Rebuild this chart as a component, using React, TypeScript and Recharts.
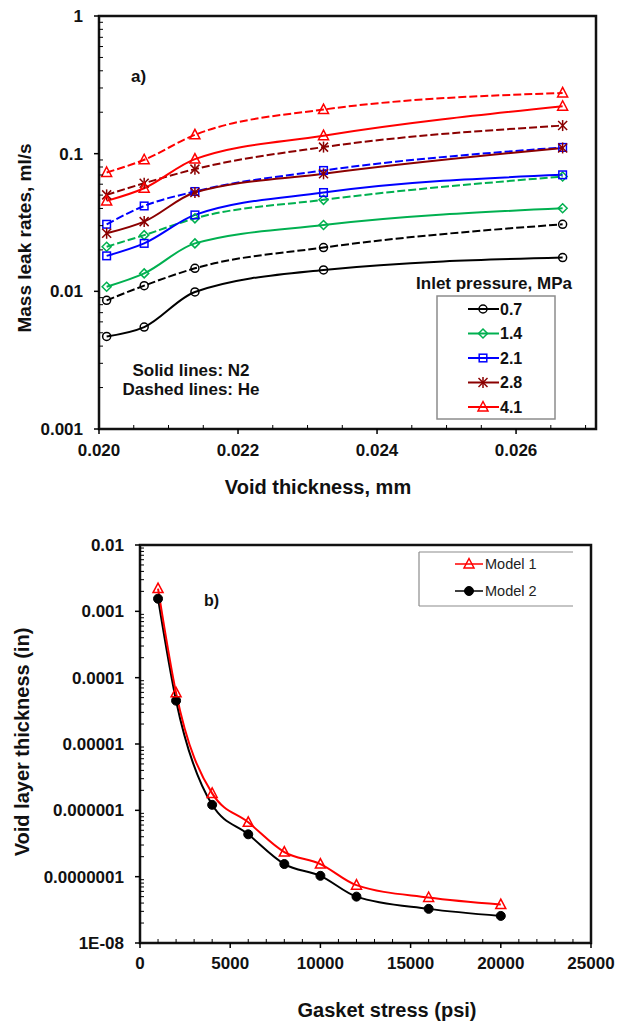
import React from 'react';
import { LineChart, Line, XAxis, YAxis, ReferenceArea } from 'recharts';

const FONT = '"Liberation Sans", Arial, Helvetica, sans-serif';

// ---------- Chart a) data ----------
const voidThickness = [0.02011, 0.02065, 0.02138, 0.02323, 0.02667];
const pressures = ['0.7', '1.4', '2.1', '2.8', '4.1'];
const n2_07 = [0.0047, 0.0055, 0.0099, 0.0143, 0.0176];
const n2_14 = [0.0108, 0.0135, 0.0223, 0.0303, 0.0401];
const n2_21 = [0.0181, 0.0223, 0.0359, 0.0522, 0.0702];
const n2_28 = [0.0264, 0.0321, 0.0522, 0.0714, 0.110];
const n2_41 = [0.0454, 0.0561, 0.0913, 0.135, 0.221];
const he_07 = [0.0086, 0.0110, 0.0147, 0.0208, 0.0307];
const he_14 = [0.0211, 0.0256, 0.0339, 0.0462, 0.0682];
const he_21 = [0.0307, 0.0417, 0.0531, 0.0755, 0.111];
const he_28 = [0.0502, 0.0610, 0.0772, 0.1116, 0.160];
const he_41 = [0.0730, 0.0903, 0.137, 0.209, 0.276];
const xMajorA = [0.02, 0.022, 0.024, 0.026];
const xMinorA = [0.0205, 0.021, 0.0215, 0.0225, 0.023, 0.0235, 0.0245, 0.025, 0.0255, 0.0265, 0.027];
const yMajorA = [0.001, 0.01, 0.1, 1];
const yLabelsA = ['0.001', '0.01', '0.1', '1'];

// ---------- Chart b) data ----------
const gasketStress = [1000, 2000, 4000, 6000, 8000, 10000, 12000, 16000, 20000];
const model1 = [2.2e-3, 5.9e-5, 1.8e-6, 6.6e-7, 2.35e-7, 1.55e-7, 7.45e-8, 4.85e-8, 3.8e-8];
const model2 = [1.55e-3, 4.5e-5, 1.21e-6, 4.35e-7, 1.55e-7, 1.03e-7, 5.0e-8, 3.27e-8, 2.56e-8];
const xMajorB = [0, 5000, 10000, 15000, 20000, 25000];
const yMajorB = [1e-8, 1e-7, 1e-6, 1e-5, 1e-4, 1e-3, 1e-2];
const yLabelsB = ['1E-08', '0.0000001', '0.000001', '0.00001', '0.0001', '0.001', '0.01'];

// ---------- styles ----------
const seriesColors = ['#000000', '#00B050', '#0000FF', '#8B0000', '#FF0000'];
const seriesShapes = ['circle', 'diamond', 'square', 'star', 'triangle'];

const n2Series = [n2_07, n2_14, n2_21, n2_28, n2_41];
const heSeries = [he_07, he_14, he_21, he_28, he_41];

const dataA = voidThickness.map((x, i) => {
  const row: any = { x };
  n2Series.forEach((s, k) => (row[`n2_${k}`] = s[i]));
  heSeries.forEach((s, k) => (row[`he_${k}`] = s[i]));
  return row;
});
const dataB = gasketStress.map((x, i) => ({ x, m1: model1[i], m2: model2[i] }));

const logMinor = (majors: number[]) => {
  const out: number[] = [];
  for (let i = 0; i < majors.length - 1; i++) {
    for (let m = 2; m <= 9; m++) out.push(majors[i] * m);
  }
  return out;
};
const yTicksA = [...yMajorA, ...logMinor(yMajorA)].sort((a, b) => a - b);
const yTicksB = [...yMajorB, ...logMinor(yMajorB)].sort((a, b) => a - b);
const xTicksA = [...xMajorA, ...xMinorA].sort((a, b) => a - b);
const xMinorB: number[] = [];
for (let v = 1000; v < 25000; v += 1000) if (v % 5000 !== 0) xMinorB.push(v);
const xTicksB = [...xMajorB, ...xMinorB].sort((a, b) => a - b);

const isIn = (list: number[], v: number) => list.findIndex((m) => Math.abs(m - v) <= Math.abs(m) * 1e-6 + 1e-12);

function Marker({ shape, cx, cy, color }: any) {
  if (cx == null || cy == null || isNaN(cx) || isNaN(cy)) return null;
  const sw = 1.5;
  switch (shape) {
    case 'circle':
      return <circle cx={cx} cy={cy} r={4} fill="none" stroke={color} strokeWidth={sw} />;
    case 'dot':
      return <circle cx={cx} cy={cy} r={4.5} fill={color} stroke={color} strokeWidth={1} />;
    case 'diamond':
      return (
        <polygon
          points={`${cx},${cy - 4.5} ${cx + 4.5},${cy} ${cx},${cy + 4.5} ${cx - 4.5},${cy}`}
          fill="none"
          stroke={color}
          strokeWidth={sw}
        />
      );
    case 'square':
      return <rect x={cx - 3.8} y={cy - 3.8} width={7.6} height={7.6} fill="none" stroke={color} strokeWidth={sw} />;
    case 'star':
      return (
        <g stroke={color} strokeWidth={sw}>
          <line x1={cx - 4.5} y1={cy - 4.5} x2={cx + 4.5} y2={cy + 4.5} />
          <line x1={cx - 4.5} y1={cy + 4.5} x2={cx + 4.5} y2={cy - 4.5} />
          <line x1={cx} y1={cy - 5.5} x2={cx} y2={cy + 5.5} />
        </g>
      );
    case 'triangle':
      return (
        <polygon
          points={`${cx},${cy - 5.5} ${cx + 5},${cy + 4} ${cx - 5},${cy + 4}`}
          fill="none"
          stroke={color}
          strokeWidth={sw}
        />
      );
    default:
      return null;
  }
}

const dotRenderer = (shape: string, color: string) => (p: any) => (
  <Marker key={`${p.dataKey}-${p.index}`} shape={shape} cx={p.cx} cy={p.cy} color={color} />
);

const makeXTick = (majors: number[], fmt: (v: number) => string, offset: number) => (props: any) => {
  const { x, y, payload } = props;
  const v = payload.value;
  const major = isIn(majors, v) >= 0;
  if (major) {
    return (
      <g>
        <line x1={x} y1={y} x2={x} y2={y + 5} stroke="#000" strokeWidth={1.5} />
        <text x={x} y={y + offset} textAnchor="middle" dy="0.35em" fontFamily={FONT} fontWeight="bold" fontSize={17} fill="#111">
          {fmt(v)}
        </text>
      </g>
    );
  }
  return <line x1={x} y1={y} x2={x} y2={y - 4} stroke="#000" strokeWidth={1} />;
};

const makeYTick = (majors: number[], labels: string[], gap: number) => (props: any) => {
  const { x, y, payload } = props;
  const idx = isIn(majors, payload.value);
  if (idx >= 0) {
    return (
      <g>
        <line x1={x} y1={y} x2={x - 5} y2={y} stroke="#000" strokeWidth={1.5} />
        <text x={x - gap} y={y} textAnchor="end" dy="0.35em" fontFamily={FONT} fontWeight="bold" fontSize={17} fill="#111">
          {labels[idx]}
        </text>
      </g>
    );
  }
  return <line x1={x} y1={y} x2={x + 4} y2={y} stroke="#000" strokeWidth={1} />;
};

const textStyle: any = { fontFamily: FONT, fontWeight: 'bold', fill: '#111' };

export default function App() {
  return (
    <div style={{ position: 'absolute', left: 0, top: 0, width: 624, height: 1021, background: '#fff' }}>
      <div style={{ position: 'absolute', left: 0, top: 0 }}>
        <LineChart width={624} height={500} data={dataA} margin={{ top: 16, right: 28, bottom: 31, left: 0 }}>
          <XAxis
            dataKey="x"
            type="number"
            domain={[0.02, 0.02715]}
            ticks={xTicksA}
            interval={0}
            allowDataOverflow
            axisLine={false}
            tickLine={false}
            tickSize={0}
            tickMargin={0}
            height={40}
            tick={makeXTick(xMajorA, (v) => v.toFixed(3), 21)}
          />
          <YAxis
            type="number"
            scale="log"
            domain={[0.001, 1]}
            ticks={yTicksA}
            interval={0}
            allowDataOverflow
            axisLine={false}
            tickLine={false}
            tickSize={0}
            tickMargin={0}
            width={99}
            tick={makeYTick(yMajorA, yLabelsA, 16)}
          />
          <ReferenceArea x1={0.02} x2={0.02715} y1={0.001} y2={1} fill="none" fillOpacity={0} stroke="#111" strokeWidth={2.5} ifOverflow="visible" />
          {pressures.map((p, k) => (
            <Line
              key={`he${k}`}
              type="monotone"
              dataKey={`he_${k}`}
              stroke={seriesColors[k]}
              strokeWidth={2}
              strokeDasharray="8 3"
              dot={dotRenderer(seriesShapes[k], seriesColors[k])}
              isAnimationActive={false}
            />
          ))}
          {pressures.map((p, k) => (
            <Line
              key={`n2${k}`}
              type="monotone"
              dataKey={`n2_${k}`}
              stroke={seriesColors[k]}
              strokeWidth={2}
              dot={dotRenderer(seriesShapes[k], seriesColors[k])}
              isAnimationActive={false}
            />
          ))}
        </LineChart>
      </div>

      <div style={{ position: 'absolute', left: 0, top: 500 }}>
        <LineChart width={624} height={521} data={dataB} margin={{ top: 45, right: 33, bottom: 38, left: 0 }}>
          <XAxis
            dataKey="x"
            type="number"
            domain={[0, 25000]}
            ticks={xTicksB}
            interval={0}
            allowDataOverflow
            axisLine={false}
            tickLine={false}
            tickSize={0}
            tickMargin={0}
            height={40}
            tick={makeXTick(xMajorB, (v) => String(v), 20)}
          />
          <YAxis
            type="number"
            scale="log"
            domain={[1e-8, 1e-2]}
            ticks={yTicksB}
            interval={0}
            allowDataOverflow
            axisLine={false}
            tickLine={false}
            tickSize={0}
            tickMargin={0}
            width={140}
            tick={makeYTick(yMajorB, yLabelsB, 16)}
          />
          <ReferenceArea x1={0} x2={25000} y1={1e-8} y2={1e-2} fill="none" fillOpacity={0} stroke="#111" strokeWidth={2.5} ifOverflow="visible" />
          <Line type="monotone" dataKey="m2" stroke="#000" strokeWidth={2} dot={dotRenderer('dot', '#000')} isAnimationActive={false} />
          <Line type="monotone" dataKey="m1" stroke="#FF0000" strokeWidth={2} dot={dotRenderer('triangle', '#FF0000')} isAnimationActive={false} />
        </LineChart>
      </div>

      <svg width={624} height={1021} style={{ position: 'absolute', left: 0, top: 0, pointerEvents: 'none' }}>
        {/* Chart a annotations */}
        <text x={24} y={238} transform="rotate(-90 24 238)" textAnchor="middle" dominantBaseline="central" fontSize={19} {...textStyle}>
          Mass leak rates, ml/s
        </text>
        <text x={318} y={487} textAnchor="middle" dominantBaseline="central" fontSize={20} {...textStyle}>
          Void thickness, mm
        </text>
        <text x={131} y={76} dominantBaseline="central" fontSize={17} {...textStyle}>a)</text>
        <text x={191} y={370} textAnchor="middle" dominantBaseline="central" fontSize={17} {...textStyle}>Solid lines: N2</text>
        <text x={191} y={389} textAnchor="middle" dominantBaseline="central" fontSize={17} {...textStyle}>Dashed lines:  He</text>
        <text x={494} y={283} textAnchor="middle" dominantBaseline="central" fontSize={17} {...textStyle}>Inlet pressure, MPa</text>
        <rect x={437} y={296} width={118} height={123} fill="#fff" stroke="#8c8c8c" strokeWidth={1.5} />
        {pressures.map((p, k) => {
          const yy = 309 + k * 24.5;
          return (
            <g key={p}>
              <line x1={468} y1={yy} x2={499} y2={yy} stroke={seriesColors[k]} strokeWidth={2} />
              <Marker shape={seriesShapes[k]} cx={483} cy={yy} color={seriesColors[k]} />
              <text x={500} y={yy} dominantBaseline="central" fontSize={16} {...textStyle}>{p}</text>
            </g>
          );
        })}

        {/* Chart b annotations */}
        <text x={22} y={742} transform="rotate(-90 22 742)" textAnchor="middle" dominantBaseline="central" fontSize={20} {...textStyle}>
          Void layer thickness (in)
        </text>
        <text x={387} y={1010} textAnchor="middle" dominantBaseline="central" fontSize={20} {...textStyle}>
          Gasket stress (psi)
        </text>
        <text x={204} y={600} dominantBaseline="central" fontSize={16} {...textStyle}>b)</text>
        <g stroke="#8c8c8c" strokeWidth={1.2}>
          <line x1={419} y1={552} x2={573} y2={552} />
          <line x1={419} y1={606} x2={573} y2={606} />
          <line x1={419} y1={552} x2={419} y2={606} />
        </g>
        <line x1={455} y1={564} x2={483} y2={564} stroke="#FF0000" strokeWidth={1.5} />
        <Marker shape="triangle" cx={469} cy={564} color="#FF0000" />
        <text x={485} y={564} dominantBaseline="central" fontFamily={FONT} fontSize={14.5} fill="#222">Model 1</text>
        <line x1={455} y1={591} x2={483} y2={591} stroke="#000" strokeWidth={1.5} />
        <Marker shape="dot" cx={469} cy={591} color="#000" />
        <text x={485} y={591} dominantBaseline="central" fontFamily={FONT} fontSize={14.5} fill="#222">Model 2</text>
      </svg>
    </div>
  );
}
